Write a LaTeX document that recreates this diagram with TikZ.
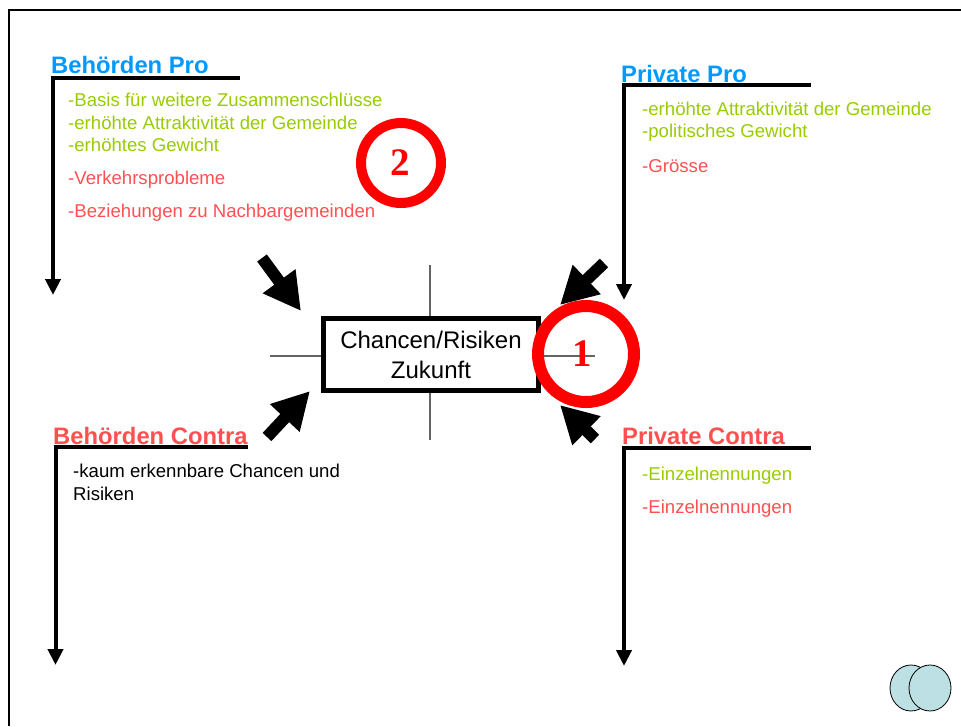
\documentclass[tikz,border=0pt]{standalone}
\usepackage{fontspec}
\setmainfont{Liberation Sans}
\newfontfamily\numfont{Liberation Serif}
\usetikzlibrary{arrows.meta,shapes.geometric}
\definecolor{hblue}{RGB}{0,153,255}
\definecolor{tgreen}{RGB}{153,204,0}
\definecolor{tred}{RGB}{255,80,80}
\definecolor{ring}{RGB}{255,0,0}
\definecolor{crossgray}{RGB}{100,100,100}
\definecolor{logofill}{RGB}{188,224,227}
\tikzset{
  heading/.style={anchor=base west, inner sep=0pt, font=\fontsize{23.8}{28}\selectfont\bfseries},
  body/.style={anchor=base west, inner sep=0pt, font=\fontsize{18.6}{22}\selectfont},
  thinarrow/.style={line width=4pt, -{Triangle[length=16pt,width=15pt]}, miter limit=4},
  fatarrow/.style={line width=12pt, -{Triangle[length=37pt,width=38pt]}},
  crossline/.style={crossgray, line width=1.5pt},
  ringstyle/.style={circle, draw=ring, inner sep=0pt},
  numstyle/.style={inner sep=0pt, text=ring, font=\fontsize{39}{40}\selectfont\numfont\bfseries},
  logo/.style={ellipse, draw=black, line width=0.8pt, fill=logofill, minimum width=42pt, minimum height=46pt, inner sep=0pt}
}
\begin{document}
\begin{tikzpicture}[x=1pt,y=-1pt]
\useasboundingbox (0,0) rectangle (961,726);
% frame
\coordinate (fr1) at (961,10);
\coordinate (fr2) at (9,10);
\coordinate (fr3) at (9,726);
\draw[line width=2.5pt] (fr1) -- (fr2) -- (fr3);
% cross lines
\coordinate (cv1) at (430,265);
\coordinate (cv2) at (430,440);
\coordinate (ch1) at (270,356);
\coordinate (ch2) at (595,356);
\draw[crossline] (cv1) -- (cv2);
\draw[crossline] (ch1) -- (ch2);
% center box
\node[draw, fill=white, line width=5pt, minimum width=215pt, minimum height=72pt, inner sep=0pt,
  align=center, font=\fontsize{24}{30}\selectfont] (box) at (431,354.5) {Chancen/Risiken\\Zukunft};
% fat arrows
\coordinate (tla) at (262,258);
\coordinate (tlb) at (301,311);
\coordinate (bla) at (267,437);
\coordinate (blb) at (310,391);
\coordinate (tra) at (604,263);
\coordinate (trb) at (560,305);
\coordinate (bra) at (595,439);
\coordinate (brb) at (560,405);
\draw[fatarrow] (tla) -- (tlb);
\draw[fatarrow] (bla) -- (blb);
\draw[fatarrow] (tra) -- (trb);
\draw[fatarrow] (bra) -- (brb);
% rings
\node[ringstyle, line width=10pt, minimum size=80pt] (ring2) at (401,163) {};
\node[ringstyle, line width=12pt, minimum size=96pt] (ring1) at (586,354) {};
\node[numstyle] (n2) at (400,163) {2};
\node[numstyle] (n1) at (582.5,354) {1};
% thin L-arrows
\coordinate (bp1) at (240,78);
\coordinate (bp2) at (53,78);
\coordinate (bp3) at (53,295);
\draw[thinarrow] (bp1) -- (bp2) -- (bp3);
\coordinate (pp1) at (811,85);
\coordinate (pp2) at (624,85);
\coordinate (pp3) at (624,300);
\draw[thinarrow] (pp1) -- (pp2) -- (pp3);
\coordinate (bc1) at (248,447);
\coordinate (bc2) at (55.5,447);
\coordinate (bc3) at (55.5,665);
\draw[thinarrow] (bc1) -- (bc2) -- (bc3);
\coordinate (pc1) at (811,448);
\coordinate (pc2) at (624,448);
\coordinate (pc3) at (624,666);
\draw[thinarrow] (pc1) -- (pc2) -- (pc3);
% Behörden Pro
\node[heading, text=hblue] (hbp) at (51,73) {Behörden Pro};
\node[body, text=tgreen] (bp_a) at (68,106) {-Basis für weitere Zusammenschlüsse};
\node[body, text=tgreen] (bp_b) at (68,129) {-erhöhte Attraktivität der Gemeinde};
\node[body, text=tgreen] (bp_c) at (68,151) {-erhöhtes Gewicht};
\node[body, text=tred] (bp_d) at (68,184) {-Verkehrsprobleme};
\node[body, text=tred] (bp_e) at (68,217) {-Beziehungen zu Nachbargemeinden};
% Private Pro
\node[heading, text=hblue] (hpp) at (621,82) {Private Pro};
\node[body, text=tgreen] (pp_a) at (642,115) {-erhöhte Attraktivität der Gemeinde};
\node[body, text=tgreen] (pp_b) at (642,137) {-politisches Gewicht};
\node[body, text=tred] (pp_c) at (642,172) {-Grösse};
% Behörden Contra
\node[heading, text=tred] (hbc) at (53,444) {Behörden Contra};
\node[body] (bc_a) at (73,477) {-kaum erkennbare Chancen und};
\node[body] (bc_b) at (73,500) {Risiken};
% Private Contra
\node[heading, text=tred] (hpc) at (622,444) {Private Contra};
\node[body, text=tgreen] (pc_a) at (642,480) {-Einzelnennungen};
\node[body, text=tred] (pc_b) at (642,513) {-Einzelnennungen};
% logo
\node[logo] (lg1) at (911,688) {};
\node[logo] (lg2) at (930,688) {};
\end{tikzpicture}
\end{document}
